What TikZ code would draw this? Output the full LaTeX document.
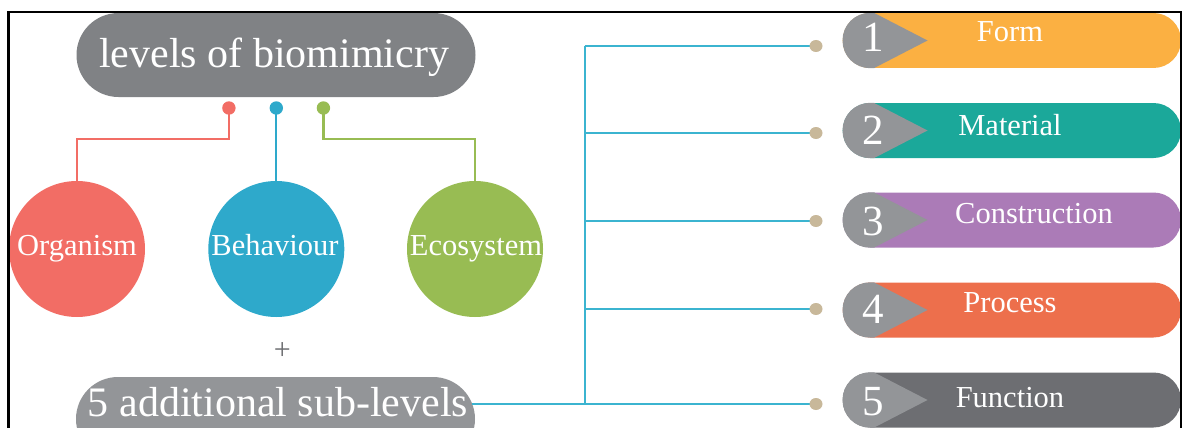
\documentclass[tikz,border=0pt]{standalone}
\usepackage{fontspec}
\setmainfont{Liberation Serif}
\definecolor{cTop}{HTML}{808285}
\definecolor{cBot}{HTML}{939598}
\definecolor{cRed}{HTML}{F26D65}
\definecolor{cBlue}{HTML}{2EA9CB}
\definecolor{cGreen}{HTML}{98BC53}
\definecolor{cLine}{HTML}{3BB4D0}
\definecolor{cTan}{HTML}{C8B89A}
\definecolor{cForm}{HTML}{FBB042}
\definecolor{cMat}{HTML}{1BA89A}
\definecolor{cCon}{HTML}{AB7BB7}
\definecolor{cPro}{HTML}{ED6F4C}
\definecolor{cFun}{HTML}{6D6E72}
\definecolor{cNum}{HTML}{939598}
\definecolor{cPlus}{HTML}{6D6E71}
\tikzset{
  bigpill/.style={draw=none, rounded corners=42pt, minimum width=399pt, minimum height=84pt, inner sep=0pt},
  bigtext/.style={text=white, anchor=base, inner sep=0pt, font=\fontsize{42}{50}\selectfont},
  levelcirc/.style={circle, draw=none, minimum size=136pt, inner sep=0pt},
  midtext/.style={text=white, anchor=base, inner sep=0pt, font=\fontsize{30.5}{36}\selectfont},
  numtext/.style={text=white, anchor=base, inner sep=0pt, font=\fontsize{43}{50}\selectfont},
  topdot/.style={circle, draw=none, minimum size=13.4pt, inner sep=0pt},
  tandot/.style={ellipse, fill=cTan, draw=none, minimum width=13pt, minimum height=12pt, inner sep=0pt},
  smallpill/.style={draw=none, rounded corners=27.5pt, minimum width=338.3pt, minimum height=55pt, inner sep=0pt},
  conn/.style={line width=2.2pt},
}
\usetikzlibrary{shapes.geometric}
\begin{document}
\begin{tikzpicture}[x=1pt,y=1pt]
\useasboundingbox (0,0) rectangle (1183,-428);
\clip (0,0) rectangle (1183,-428);
% top pill
\node[bigpill, fill=cTop] (top) at (276,-55) {};
\node[bigtext] (toptext) at (274,-67) {levels of biomimicry};
% circles
\node[levelcirc, fill=cRed] (org) at (77,-249) {};
\node[levelcirc, fill=cBlue] (beh) at (276.3,-249) {};
\node[levelcirc, fill=cGreen] (eco) at (475,-249) {};
\node[midtext] (orgt) at (77,-255) {Organism};
\node[midtext] (beht) at (275,-255) {Behaviour};
\node[midtext] (ecot) at (476,-255) {Ecosystem};
% dots
\coordinate (cr) at (228.9,-108);
\coordinate (cb) at (276.3,-108);
\coordinate (cg) at (323.4,-108);
% connectors
\draw[conn, cRed] (cr) -- ++(0,-31) -| (org.north);
\draw[conn, cBlue] (cb) -- (beh.north);
\draw[conn, cGreen] (cg) -- ++(0,-31) -| (eco.north);
\node[topdot, fill=cRed] (dr) at (cr) {};
\node[topdot, fill=cBlue] (db) at (cb) {};
\node[topdot, fill=cGreen] (dg) at (cg) {};
% plus
\node[text=cPlus, inner sep=0pt, font=\fontsize{30}{34}\selectfont] (plus) at (282.4,-351) {+};
% bottom pill
\node[bigpill, fill=cBot] (bot) at (275.5,-419) {};
\node[bigtext] (bottext) at (278,-416) {5 additional sub-levels};
% trunk
\coordinate (tr1) at (584.6,-46);
\coordinate (tr5) at (584.6,-404);
\coordinate (botR) at (471.7,-404);
\draw[conn, cLine] (botR) -- (tr5);
\draw[conn, cLine] (tr1) -- (tr5);
% right pills
\foreach \i/\c/\py/\dy/\lab/\lx/\lb/\nb in {
  1/cForm/40.5/46/Form/1010/42/52,
  2/cMat/130.5/133/Material/1010/135/144,
  3/cCon/220/221/Construction/1034/223/235,
  4/cPro/310/309/Process/1010/312/323,
  5/cFun/400/404/Function/1010/407/415}{
  \coordinate (br\i) at (584.6,-\dy);
  \coordinate (dc\i) at (816,-\dy);
  \draw[conn, cLine] (br\i) -- (dc\i);
  \node[tandot] (td\i) at (dc\i) {};
  \node[smallpill, fill=\c] (p\i) at (1011.85,-\py) {};
  \begin{scope}
    \clip ([xshift=-2pt,yshift=2pt]p\i.north west) -- ([xshift=27.5pt,yshift=2pt]p\i.north west) -- ([xshift=85pt]p\i.west) -- ([xshift=27.5pt,yshift=-2pt]p\i.south west) -- ([xshift=-2pt,yshift=-2pt]p\i.south west) -- cycle;
    \fill[cNum, rounded corners=27.5pt] (p\i.south west) rectangle (p\i.north east);
  \end{scope}
  \node[numtext] (n\i) at (873,-\nb) {\i};
  \node[midtext] (l\i) at (\lx,-\lb) {\lab};
}
% frame
\draw[line width=2.2pt, black] (8.4,-440) -- (8.4,-11.7) -- (1181,-11.7) -- (1181,-440);
\end{tikzpicture}
\end{document}
